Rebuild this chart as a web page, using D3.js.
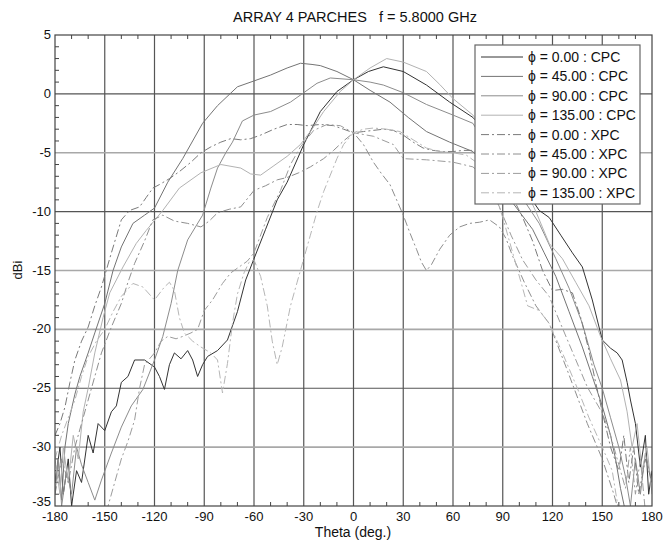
<!DOCTYPE html>
<meta charset="utf-8">
<html>
<head>
    <title>ARRAY 4 PARCHES</title>
    <script src="https://d3js.org/d3.v7.min.js"></script>
</head>
<style>
    body { margin: 0; background: white; }
    text { font-family: "Liberation Sans", Arial, sans-serif; fill: #111; }
</style>
<body>
<div id="chartsdiv"></div>
<script>

// axis ticks
var thetaTicks = [-180, -150, -120, -90, -60, -30, 0, 30, 60, 90, 120, 150, 180];
var dbTicks = [5, 0, -5, -10, -15, -20, -25, -30, -35];
var darkRows = [0, -10, -25];   // horizontal grid lines printed darker

// legend labels
var seriesNames = ["\u03D5 = 0.00 : CPC", "\u03D5 = 45.00 : CPC", "\u03D5 = 90.00 : CPC", "\u03D5 = 135.00 : CPC",
    "\u03D5 = 0.00 : XPC", "\u03D5 = 45.00 : XPC", "\u03D5 = 90.00 : XPC", "\u03D5 = 135.00 : XPC"];

// measured cuts, [theta, dBi]
var cpc0 = [[-180,-33],[-177,-30],[-175,-34],[-172,-31],[-170,-35],[-167,-32],[-164,-33],[-160,-29],[-157,-30.5],
    [-154,-28],[-150,-28.6],[-146,-27],[-143,-26.5],[-140,-24.5],[-136,-24],[-132,-22.6],[-126,-22.6],[-120,-23.2],
    [-117,-24],[-114,-25.1],[-111,-23],[-108,-22],[-104,-22.5],[-100,-21.8],[-97,-22.6],[-94,-24],[-91,-23],
    [-88,-22.3],[-82,-21.8],[-76,-20.9],[-70,-18.5],[-65,-15.8],[-60,-14],[-53,-11.5],[-46,-9],[-40,-7.5],
    [-30,-4.3],[-20,-1.5],[-10,0.2],[0,1.2],[9,1.9],[18,2.3],[30,1.9],[44,0.75],[58,-0.7],[72,-2.0],[85,-4],
    [98,-7],[112,-9.9],[118,-10.5],[125,-12],[132,-13.5],[138,-14.7],[144,-17.5],[150,-20.9],[155,-21.6],
    [159,-22],[162,-22.6],[165,-24.5],[167,-26],[170,-28],[173,-31.7],[176,-29],[178,-34],[180,-32]];

var cpc45 = [[-180,-33],[-178,-31],[-176,-34.5],[-174,-30],[-172,-28],[-168,-25.5],[-165,-24],[-160,-22],
    [-156,-20.3],[-150,-17.8],[-145,-15],[-140,-13],[-133,-11],[-126,-10.3],[-120,-9.7],[-112,-7.5],[-103,-5.5],
    [-97,-4],[-91,-2.5],[-82,-1],[-70,0.6],[-60,1.1],[-50,1.6],[-40,2.2],[-32,2.6],[-25,2.5],[-20,2.4],
    [-10,1.9],[0,1.2],[10,0.3],[22,-0.7],[33,-2],[44,-3.2],[58,-4.1],[72,-4.9],[82,-6.5],[92,-8.5],[100,-10],
    [108,-11.5],[115,-13.5],[122,-15.5],[130,-18.5],[138,-21.5],[144,-24],[150,-26.5],[155,-29],[158,-31],
    [161,-33.5],[164,-35.5]];

var cpc90 = [[-180,-34],[-178,-31],[-176,-35],[-173,-32],[-170,-34],[-167,-30],[-164,-31.5],[-160,-33],
    [-156,-34.5],[-152,-32.8],[-146,-30.5],[-140,-28.3],[-134,-26.5],[-127,-25.1],[-120,-22.6],[-115,-20.6],
    [-110,-17.8],[-106,-15],[-100,-12.4],[-91,-10.3],[-86,-8],[-82,-6.3],[-77,-5],[-73,-4.1],[-67,-2.3],
    [-60,-1.8],[-50,-1.5],[-38,-0.7],[-30,0.1],[-22,0.9],[-14,1.35],[0,1.2],[10,1.0],[18,0.75],[30,0.1],
    [44,-0.9],[60,-1.8],[72,-2.5],[85,-5.5],[95,-8],[104,-9.3],[112,-11],[122,-14],[130,-16.5],[138,-19.5],
    [145,-23],[150,-25],[155,-27.5],[160,-30],[164,-32.5],[167,-35],[170,-31],[173,-34],[176,-30.5],[180,-33]];

var cpc135 = [[-180,-31],[-177,-34],[-175,-30],[-172,-33],[-169,-29],[-166,-31],[-163,-27],[-160,-25],
    [-156,-22],[-151,-19],[-147,-16.9],[-139,-14.7],[-131,-12.7],[-125,-11.6],[-115,-9.9],[-105,-8],[-92,-6.7],
    [-80,-6.0],[-68,-6.3],[-62,-6.8],[-56,-6.9],[-48,-6.1],[-40,-5.3],[-32,-4.3],[-25,-3],[-18,-1.5],[-8,0.2],
    [0,1.2],[10,2.2],[20,3.0],[30,2.7],[44,1.9],[52,0.8],[60,-0.4],[72,-1.8],[82,-3.5],[92,-5.5],[100,-7],
    [110,-10],[118,-12.7],[126,-14],[134,-16],[142,-18],[149,-20.6],[155,-22.5],[161,-24.3],[165,-27],
    [168,-30],[171,-28],[174,-32],[177,-30],[180,-34]];

var xpc0 = [[-180,-29],[-177,-28],[-174,-26.6],[-171,-24.5],[-168,-22.6],[-164,-21],[-160,-19.8],[-156,-18],
    [-152,-16.4],[-146,-13.5],[-140,-10.7],[-135,-9.9],[-129,-9.6],[-125,-8.8],[-121,-8],[-117,-7.7],[-111,-7.2],
    [-105,-6.6],[-98,-5.8],[-92,-5],[-86,-4.5],[-80,-4.1],[-74,-3.8],[-68,-3.9],[-62,-3.8],[-56,-3.5],[-48,-3],
    [-40,-2.6],[-34,-2.6],[-28,-2.7],[-20,-2.6],[-12,-2.7],[-6,-3],[0,-3.3],[6,-3.2],[12,-3.1],[18,-3],
    [24,-3.1],[30,-3.5],[36,-4.1],[42,-4.6],[48,-4.8],[54,-4.9],[60,-4.9],[66,-4.8],[72,-4.8],[80,-5.5],
    [88,-7],[95,-8.5],[102,-10.5],[108,-12.5],[114,-15],[120,-16.7],[126,-16.6],[132,-16.9],[137,-19],
    [142,-21.8],[146,-24.5],[150,-27],[155,-30],[160,-32],[163,-29],[166,-33],[169,-30],[172,-34],[176,-31],[180,-33]];

var xpc45 = [[-180,-34],[-176,-31],[-172,-33],[-168,-30],[-163,-27.5],[-158,-25],[-152,-22],[-146,-19.8],
    [-140,-17.8],[-136,-16],[-132,-14.4],[-126,-12.5],[-121,-10.7],[-115,-10.3],[-108,-10.8],[-100,-11],
    [-92,-11.3],[-87,-10.8],[-82,-10.1],[-75,-9.8],[-68,-9.6],[-60,-8.2],[-53,-7.8],[-46,-7.3],[-40,-7.1],
    [-33,-6.7],[-26,-6.2],[-18,-5.5],[-12,-4.8],[-6,-4],[0,-3.3],[6,-4.3],[12,-5.8],[17,-6.8],[22,-7.7],
    [26,-9],[30,-10.3],[34,-11.8],[38,-13.2],[41,-14.3],[44,-15],[47,-14.5],[52,-13.2],[58,-12],[64,-11.3],
    [70,-11],[76,-10.9],[82,-10.7],[88,-11.3],[92,-12.3],[96,-13.8],[103,-16],[110,-18],[118,-19.5],
    [129,-23.5],[141,-28],[150,-31],[157,-34],[160,-35.5]];

var xpc90 = [[-149,-35.5],[-144,-33],[-140,-31],[-136,-29.5],[-132,-27.7],[-129,-25],[-126,-23],[-120,-22],
    [-116,-21],[-112,-20.6],[-107,-20.8],[-103,-20.6],[-98,-20.3],[-94,-20],[-90,-18.4],[-85,-17.5],
    [-79,-16.1],[-74,-15.2],[-68,-14.6],[-64,-14.2],[-60,-13.5],[-52,-10.5],[-44,-8.2],[-38,-6],[-32,-4.5],
    [-24,-3.1],[-16,-2.6],[-8,-2.7],[0,-3.3],[12,-3.6],[24,-4.3],[30,-5.5],[44,-5.6],[60,-5.8],[72,-6.2],
    [80,-7.2],[88,-9.6],[95,-12],[102,-14.1],[110,-15.8],[118,-17.2],[129,-20.9],[141,-24.9],[150,-27.1],
    [155,-29],[160,-31.5],[164,-33.5],[167,-30],[170,-34],[173,-31],[176,-35.5]];

var xpc135 = [[-180,-31],[-176,-29],[-172,-27.5],[-168,-26],[-164,-24],[-160,-22.3],[-155,-21],[-150,-20],
    [-145,-18.5],[-140,-17.2],[-133,-16.1],[-127,-16.4],[-120,-17.5],[-114,-16.4],[-111,-16],[-108,-16.7],
    [-105,-19],[-102,-20.3],[-97,-21],[-92,-21.5],[-86,-22],[-82,-22.6],[-79,-25.4],[-76,-22.9],[-73,-19.5],
    [-70,-17],[-66,-15.2],[-63,-14.3],[-60,-14.1],[-56,-15.5],[-52,-18],[-49,-21],[-46,-23],[-43,-21.5],
    [-38,-18],[-34,-16],[-30,-14],[-26,-12],[-22,-10],[-18,-8.3],[-14,-6.9],[-10,-5.5],[-6,-4.3],[0,-3.3],
    [6,-3],[12,-2.9],[20,-3],[28,-3.2],[36,-3.9],[44,-4.6],[52,-4.9],[60,-5],[68,-5.2],[76,-6],[84,-8],
    [90,-10.5],[97,-14],[105,-18],[112,-18.4],[118,-19.5],[126,-22],[135,-25],[142,-27.5],[150,-30],
    [156,-32],[160,-35.5]];

var seriesData = [cpc0, cpc45, cpc90, cpc135, xpc0, xpc45, xpc90, xpc135];
var seriesColors = ["#333333", "#747474", "#8c8c8c", "#b2b2b2", "#7a7a7a", "#8e8e8e", "#9c9c9c", "#b6b6b6"];
var dashDot = "8,3,2,3";

// page and plot area
var width = 665, height = 542;
var plot = {left: 55, right: 652, top: 35, bottom: 506};

var svg = d3.select("#chartsdiv").append("svg")
    .attr("width", width)
    .attr("height", height);

var scaleX = d3.scaleLinear().domain([-180, 180]).range([plot.left, plot.right]);
var scaleY = d3.scaleLinear().domain([-35, 5]).range([plot.bottom, plot.top]);

// grid lines
svg.append("g").selectAll("line")
    .data(thetaTicks.slice(1, -1)).enter()
    .append("line")
    .attr("x1", d => scaleX(d)).attr("x2", d => scaleX(d))
    .attr("y1", plot.top).attr("y2", plot.bottom)
    .style("stroke", "#555").style("stroke-width", 1.2);

svg.append("g").selectAll("line")
    .data(dbTicks.slice(1, -1)).enter()
    .append("line")
    .attr("x1", plot.left).attr("x2", plot.right)
    .attr("y1", d => scaleY(d)).attr("y2", d => scaleY(d))
    .style("stroke", d => darkRows.includes(d) ? "#555" : "#a8a8a8")
    .style("stroke-width", d => darkRows.includes(d) ? 1.2 : 1.6);

// minor ticks, every 10 deg and every 1 dB
var minorX = d3.range(-170, 180, 10).filter(d => d % 30 != 0);
var minorY = d3.range(-34, 5, 1).filter(d => d % 5 != 0);
var ticks = svg.append("g").style("stroke", "#444").style("stroke-width", 1);
ticks.selectAll(".mxb").data(minorX).enter().append("line")
    .attr("x1", d => scaleX(d)).attr("x2", d => scaleX(d))
    .attr("y1", plot.bottom).attr("y2", plot.bottom - 4);
ticks.selectAll(".mxt").data(minorX).enter().append("line")
    .attr("x1", d => scaleX(d)).attr("x2", d => scaleX(d))
    .attr("y1", plot.top).attr("y2", plot.top + 4);
ticks.selectAll(".myl").data(minorY).enter().append("line")
    .attr("x1", plot.left).attr("x2", plot.left + 4)
    .attr("y1", d => scaleY(d)).attr("y2", d => scaleY(d));

// curves, clipped to the plot box
svg.append("clipPath").attr("id", "clip")
    .append("rect")
    .attr("x", plot.left).attr("y", plot.top)
    .attr("width", plot.right - plot.left).attr("height", plot.bottom - plot.top);

var line = d3.line()
    .x(d => scaleX(d[0]))
    .y(d => scaleY(d[1]));

svg.append("g").attr("clip-path", "url(#clip)")
    .selectAll("path")
    .data(seriesData).enter()
    .append("path")
    .attr("d", line)
    .style("fill", "none")
    .style("stroke", (d, i) => seriesColors[i])
    .style("stroke-width", 1)
    .style("stroke-dasharray", (d, i) => i >= 4 ? dashDot : null);

// plot frame
svg.append("rect")
    .attr("x", plot.left).attr("y", plot.top)
    .attr("width", plot.right - plot.left).attr("height", plot.bottom - plot.top)
    .style("fill", "none").style("stroke", "#444").style("stroke-width", 1.2);

// tick labels ("-35" sits a bit higher so it clears "-180")
svg.append("g").selectAll("text")
    .data(thetaTicks).enter()
    .append("text")
    .attr("x", d => scaleX(d))
    .attr("y", plot.bottom + 15)
    .attr("text-anchor", "middle")
    .style("font-size", "13px")
    .text(d => d);

svg.append("g").selectAll("text")
    .data(dbTicks).enter()
    .append("text")
    .attr("x", plot.left - 4)
    .attr("y", d => d == -35 ? scaleY(d) : scaleY(d) + 4)
    .attr("text-anchor", "end")
    .style("font-size", "13px")
    .text(d => d);

// titles
svg.append("text")
    .attr("x", 355).attr("y", 22)
    .attr("text-anchor", "middle")
    .style("font-size", "14.5px")
    .attr("xml:space", "preserve")
    .text("ARRAY 4 PARCHES   f = 5.8000 GHz");

svg.append("text")
    .attr("x", 353).attr("y", 537)
    .attr("text-anchor", "middle")
    .style("font-size", "14px")
    .text("Theta (deg.)");

svg.append("text")
    .attr("transform", "translate(22,270) rotate(-90)")
    .attr("text-anchor", "middle")
    .style("font-size", "13px")
    .text("dBi");

// legend
var legend = {x: 475, y: 45, w: 165, h: 159, row: 19.4};
var lg = svg.append("g");
lg.append("rect")
    .attr("x", legend.x).attr("y", legend.y)
    .attr("width", legend.w).attr("height", legend.h)
    .style("fill", "white").style("stroke", "#666").style("stroke-width", 1.2);

var rows = lg.selectAll(".row")
    .data(seriesNames).enter()
    .append("g")
    .attr("transform", (d, i) => "translate(0," + (legend.y + 12 + i * legend.row) + ")");

rows.append("line")
    .attr("x1", legend.x + 6).attr("x2", legend.x + 48)
    .attr("y1", 0).attr("y2", 0)
    .style("stroke", (d, i) => seriesColors[i])
    .style("stroke-width", 1)
    .style("stroke-dasharray", (d, i) => i >= 4 ? dashDot : null);

rows.append("text")
    .attr("x", legend.x + 53)
    .attr("y", 5)
    .style("font-size", "14px")
    .text(d => d);

</script>
</body>
</html>
